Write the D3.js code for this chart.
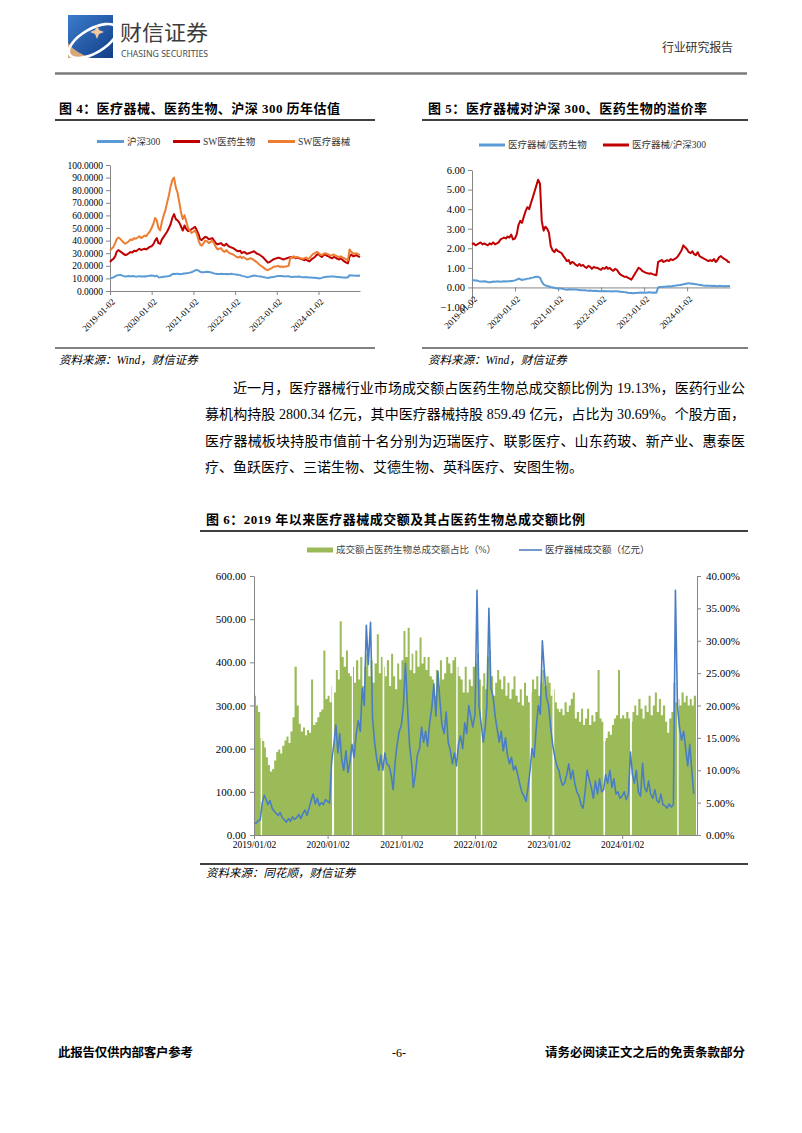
<!DOCTYPE html>
<html><head><meta charset="utf-8">
<script src="https://cdn.jsdelivr.net/npm/d3@7"></script>
<style>
html,body{margin:0;padding:0;background:#fff;}
svg{display:block;}
</style></head><body>
<svg id="page" width="802" height="1133"></svg>
<script>
// ===================== DATA =====================
// Chart 4: PE valuation, semi-monthly samples 2019-01 .. 2024-12 (+ final 2024-12-31)
const hs300PE = [
 10.0,10.3,10.8,11.6,12.3,12.6,12.8,12.4,11.8,11.5,11.7,11.9,11.6,11.9,11.8,11.4,11.6,11.8,11.5,11.6,11.7,11.6,11.9,12.2,
 12.3,12.2,11.6,12.2,11.0,10.8,11.2,11.4,11.5,11.6,11.9,12.3,13.4,13.6,13.5,13.8,13.3,13.4,13.7,13.9,14.0,14.3,14.6,14.9,
 15.6,16.3,16.8,16.2,15.3,14.8,14.9,15.1,15.2,15.0,14.8,14.5,14.0,13.6,13.5,13.4,13.6,13.5,13.4,13.5,13.3,13.4,13.6,13.4,
 13.2,12.9,12.8,12.6,12.0,11.8,11.4,11.0,11.2,11.5,11.9,12.3,12.1,11.8,11.6,11.5,11.2,11.0,10.6,10.3,10.8,11.0,11.2,11.4,
 11.7,12.0,12.0,11.9,11.7,11.6,11.8,11.7,11.3,11.2,11.3,11.4,11.3,11.5,11.2,11.0,11.0,11.1,10.8,10.7,10.7,10.6,10.5,10.4,
 10.2,10.0,10.4,10.9,11.2,11.3,11.4,11.6,11.6,11.5,11.3,11.2,11.1,11.0,10.8,10.7,10.6,10.9,12.5,12.3,12.4,12.2,12.1,12.3,
 12.2];
const swMedPE = [
 23.0,24.5,25.5,27.5,31.0,32.5,31.5,30.5,29.5,28.5,29.0,30.0,31.0,30.5,32.0,31.5,32.5,33.5,32.5,33.0,33.5,33.0,34.0,35.0,
 35.5,37.0,40.0,42.0,38.0,37.5,41.0,43.0,45.0,47.0,50.0,53.0,58.0,61.0,57.0,56.0,54.0,51.0,48.0,52.0,49.0,47.5,48.0,49.0,
 50.0,51.0,48.0,45.0,41.0,40.5,42.0,43.0,42.5,41.0,41.5,42.0,40.0,38.0,37.0,37.5,38.0,36.5,36.0,37.5,36.0,35.0,34.5,34.0,
 33.0,32.0,31.5,32.0,30.0,31.0,30.5,29.5,30.0,30.5,31.0,31.5,30.5,29.5,29.0,28.0,27.0,25.5,24.0,22.5,23.0,24.0,25.0,25.5,
 26.0,26.5,26.0,25.5,25.0,25.5,26.0,26.5,27.0,26.5,27.0,26.0,26.5,26.0,25.5,25.0,24.5,25.0,24.0,23.5,25.0,26.0,27.0,28.5,
 29.5,28.0,27.0,28.5,29.0,28.0,27.5,26.5,26.0,27.0,26.5,25.5,25.0,26.0,24.5,23.5,22.5,22.0,27.5,29.0,27.5,28.0,28.5,27.5,
 27.0];
const swDevPE = [
 32.0,33.5,35.0,38.0,41.0,42.5,41.5,40.0,38.5,37.5,38.5,39.5,41.0,40.5,42.0,41.5,42.5,43.5,42.0,43.0,44.0,43.5,45.5,47.0,
 50.0,53.0,58.0,56.0,50.0,48.0,55.0,60.0,64.0,70.0,76.0,83.0,88.0,90.0,82.0,78.0,70.0,62.0,57.0,60.0,55.0,50.0,48.0,46.0,
 47.0,48.0,45.0,40.0,37.0,36.0,38.0,40.0,39.5,38.0,39.0,40.0,38.0,35.0,33.0,33.5,34.0,32.0,31.0,32.5,31.0,30.0,29.5,29.0,
 28.0,27.0,26.5,27.5,26.0,27.0,26.0,25.0,25.5,26.0,25.5,24.5,23.5,22.5,21.0,20.0,19.0,18.0,17.0,16.5,17.5,18.0,19.0,19.5,
 19.5,20.0,19.0,19.5,19.0,19.5,19.5,20.0,26.5,27.0,27.5,26.5,27.0,26.5,26.0,25.5,26.0,26.5,25.5,26.0,28.0,29.5,30.0,31.0,
 30.5,29.0,28.5,29.5,30.0,29.5,29.0,28.0,28.5,29.0,28.0,27.5,27.0,27.5,26.5,26.0,25.0,24.5,33.0,31.0,30.0,29.5,30.0,29.0,
 29.0];
// Chart 5: premium rates, same sampling
const premVsMed = [
 0.38,0.37,0.36,0.35,0.32,0.30,0.30,0.31,0.30,0.27,0.26,0.28,0.30,0.29,0.31,0.30,0.29,0.30,0.31,0.30,0.31,0.32,0.33,0.34,
 0.36,0.40,0.45,0.42,0.38,0.40,0.42,0.45,0.46,0.48,0.50,0.53,0.55,0.54,0.50,0.30,0.15,0.10,0.08,0.05,0.02,0.00,-0.02,-0.04,
 -0.05,-0.06,-0.06,-0.08,-0.10,-0.12,-0.10,-0.09,-0.10,-0.11,-0.10,-0.12,-0.13,-0.14,-0.15,-0.14,-0.16,-0.17,-0.16,-0.17,-0.18,-0.17,-0.18,-0.19,
 -0.20,-0.19,-0.18,-0.20,-0.19,-0.20,-0.21,-0.20,-0.19,-0.20,-0.21,-0.22,-0.23,-0.24,-0.25,-0.27,-0.28,-0.29,-0.30,-0.29,-0.28,-0.27,-0.26,-0.27,
 -0.26,-0.27,-0.26,-0.25,-0.26,-0.27,-0.26,-0.27,0.00,0.02,0.02,0.03,0.04,0.05,0.06,0.05,0.07,0.08,0.10,0.11,0.12,0.14,0.16,0.18,
 0.20,0.22,0.19,0.20,0.17,0.16,0.15,0.13,0.12,0.10,0.09,0.10,0.08,0.09,0.07,0.08,0.07,0.06,0.08,0.07,0.06,0.07,0.06,0.07,
 0.07];
const premVsHS = [
 2.20,2.25,2.15,2.20,2.25,2.30,2.20,2.25,2.20,2.15,2.25,2.20,2.30,2.20,2.25,2.30,2.45,2.50,2.55,2.50,2.60,2.55,2.70,2.45,
 2.50,2.70,3.20,3.40,3.30,3.60,3.90,4.10,4.00,4.30,4.60,4.90,5.20,5.50,5.30,3.40,2.90,3.10,3.00,2.80,2.10,1.90,1.80,1.95,
 1.85,1.80,1.75,1.60,1.50,1.35,1.40,1.20,1.30,1.25,1.15,1.10,1.20,1.10,1.15,1.05,1.00,1.10,1.05,0.95,1.05,1.00,1.00,0.95,
 0.90,1.00,0.95,1.05,0.95,1.00,0.90,0.85,0.95,0.90,0.75,0.65,0.60,0.55,0.55,0.50,0.45,0.40,0.55,0.70,0.85,1.00,0.95,0.85,
 0.80,0.75,0.72,0.70,0.72,0.68,0.65,0.62,1.30,1.35,1.40,1.30,1.35,1.40,1.35,1.45,1.40,1.45,1.50,1.60,1.75,1.90,2.15,2.05,
 1.95,1.80,1.75,1.85,1.70,1.65,1.80,1.60,1.55,1.50,1.45,1.40,1.35,1.40,1.35,1.45,1.30,1.40,1.55,1.60,1.50,1.45,1.40,1.30,
 1.28];
// Chart 6: samples on the 2nd, 12th and 22nd of each month, 2019-01 .. 2024-12
const sharePct = [
 21.5,20.0,19.0,15.0,14.5,13.5,12.0,10.8,9.8,10.2,11.5,12.8,13.2,12.6,13.8,14.6,15.2,14.2,16.0,18.2,26.0,20.0,17.2,16.0,16.6,15.4,16.2,15.8,24.0,17.0,17.4,18.2,19.0,19.4,28.5,21.0,
 21.5,20.5,23.0,22.0,25.5,24.0,33.0,27.5,26.0,28.5,25.0,24.5,26.0,23.5,27.0,24.0,27.5,23.0,26.0,28.0,24.5,27.0,23.5,26.5,31.0,25.0,27.5,26.0,24.5,27.0,23.0,28.0,24.5,22.5,26.5,24.0,
 27.0,31.5,27.5,32.0,25.5,28.0,25.0,28.5,26.0,30.5,26.5,27.5,25.5,27.5,24.5,24.0,21.5,25.5,23.0,27.0,24.0,25.0,27.5,26.5,25.0,27.0,27.5,26.0,24.5,24.0,22.0,26.0,22.0,24.0,23.0,26.0,
 26.5,28.0,24.0,23.0,25.0,22.5,27.5,28.5,24.5,21.5,23.5,25.5,24.0,22.5,24.5,21.5,23.5,21.0,22.5,24.5,21.5,20.5,22.5,20.0,23.5,21.5,20.5,22.0,24.0,22.5,24.5,21.5,23.5,25.5,23.0,24.5,
 23.5,21.5,22.5,20.5,19.5,19.0,19.5,18.5,20.5,19.0,20.0,21.0,22.0,18.0,19.0,17.5,19.5,17.0,18.0,19.5,17.0,18.5,17.5,19.0,25.5,18.0,17.5,14.5,15.0,16.0,15.5,17.0,18.0,18.5,25.5,18.0,
 18.5,18.0,19.0,18.0,17.5,19.0,20.0,18.5,21.0,19.5,18.0,20.0,19.0,21.5,18.5,20.0,22.0,19.0,21.0,18.5,20.0,17.5,15.8,18.0,19.0,23.5,20.5,21.0,20.0,22.0,20.5,21.5,20.0,21.0,20.0,21.5];
const turnoverAmt = [
 30,27,33,35,75,92,84,70,80,62,55,50,45,52,40,35,30,38,32,42,36,40,48,38,50,58,45,62,80,95,72,85,68,75,70,82,
 78,74,170,210,255,190,235,175,150,195,145,170,210,180,230,265,240,340,300,486,395,493,270,215,175,150,185,150,190,165,160,140,105,170,210,240,
 255,300,398,290,205,165,110,140,185,200,250,215,240,205,260,295,350,275,380,310,255,235,285,215,195,165,190,160,210,230,200,260,235,300,275,250,
 280,567,300,255,215,250,300,525,340,320,275,245,215,240,195,225,185,165,180,150,160,140,118,100,90,78,110,150,200,180,250,300,280,450,380,320,
 300,250,210,180,160,150,130,115,120,140,165,130,150,120,100,90,70,62,100,150,130,110,85,125,95,130,100,105,140,120,150,110,130,95,100,85,
 90,100,82,95,192,140,120,150,100,90,166,110,100,125,95,85,105,80,75,95,70,68,62,72,65,70,567,300,250,220,240,200,160,210,150,95];
// Market holidays (no trading) visible as white gaps
const holidayGaps = [
 ["2019-02-04","2019-02-11"],["2020-01-24","2020-02-03"],["2020-05-01","2020-05-06"],["2020-10-01","2020-10-09"],
 ["2021-10-01","2021-10-08"],["2022-01-31","2022-02-07"],["2022-10-01","2022-10-10"],["2023-01-21","2023-01-30"],
 ["2023-10-01","2023-10-09"],["2024-02-10","2024-02-19"],["2024-10-01","2024-10-08"]];
// Ticks and labels
const yearTicks = ["2019-01-02","2020-01-02","2021-01-02","2022-01-02","2023-01-02","2024-01-02"];
const peTicks = [0,10,20,30,40,50,60,70,80,90,100];
const premTicks = [-1,0,1,2,3,4,5,6];
const amtTicks = [0,100,200,300,400,500,600];
const pctTicks = [0,5,10,15,20,25,30,35,40];
const legend4 = ["沪深300","SW医药生物","SW医疗器械"];
const legend5 = ["医疗器械/医药生物","医疗器械/沪深300"];
const legend6 = ["成交额占医药生物总成交额占比（%）","医疗器械成交额（亿元）"];
const paragraph = [
 "近一月，医疗器械行业市场成交额占医药生物总成交额比例为 19.13%，医药行业公",
 "募机构持股 2800.34 亿元，其中医疗器械持股 859.49 亿元，占比为 30.69%。个股方面，",
 "医疗器械板块持股市值前十名分别为迈瑞医疗、联影医疗、山东药玻、新产业、惠泰医",
 "疗、鱼跃医疗、三诺生物、艾德生物、英科医疗、安图生物。"];

// ===================== SETUP =====================
const parse = d3.timeParse("%Y-%m-%d");
const halfMonthDates = [];
for (let y = 2019; y <= 2024; y++) for (let m = 0; m < 12; m++) {
  halfMonthDates.push(new Date(y, m, (y === 2019 && m === 0) ? 2 : 1));
  halfMonthDates.push(new Date(y, m, 16));
}
halfMonthDates.push(new Date(2024, 11, 31));
const tenDayDates = [];
for (let y = 2019; y <= 2024; y++) for (let m = 0; m < 12; m++) [2, 12, 22].forEach(d => tenDayDates.push(new Date(y, m, d)));
const tenDayEnd = new Date(2025, 0, 2);
const yearTickDates = yearTicks.map(parse);

const SERIF = '"Liberation Serif","Times New Roman","Noto Sans CJK SC",serif';
const CJK = '"Liberation Serif","Noto Sans CJK SC",sans-serif';
const AXIS = "#868686";
const svg = d3.select("#page");
svg.append("rect").attr("width", 802).attr("height", 1133).attr("fill", "#fff");

function zip(dates, vals) { const n = Math.min(dates.length, vals.length); const out = []; for (let i = 0; i < n; i++) out.push({ date: dates[i], v: vals[i] }); return out; }
function styleAxis(g, size) {
  g.attr("font-family", SERIF).attr("font-size", size);
  g.select(".domain").attr("stroke", AXIS);
  g.selectAll(".tick line").attr("stroke", AXIS);
  g.selectAll(".tick text").attr("fill", "#000");
}

// ===================== HEADER =====================
const defs = svg.append("defs");
const lg = defs.append("linearGradient").attr("id", "logoBlue").attr("x1", "0").attr("y1", "0").attr("x2", "1").attr("y2", "1");
lg.append("stop").attr("offset", "0%").attr("stop-color", "#3b7ccc");
lg.append("stop").attr("offset", "100%").attr("stop-color", "#123e86");
defs.append("clipPath").attr("id", "logoClip").append("rect").attr("x", 68).attr("y", 15).attr("width", 45).attr("height", 43);
const logo = svg.append("g").attr("clip-path", "url(#logoClip)");
logo.append("rect").attr("x", 68).attr("y", 15).attr("width", 45).attr("height", 43).attr("fill", "url(#logoBlue)");
logo.append("path").attr("d", "M66,40 Q74,54 98,60 L66,60 Z").attr("fill", "#d9a777");
logo.append("ellipse").attr("cx", 93).attr("cy", 41).attr("rx", 27).attr("ry", 12)
  .attr("transform", "rotate(-30,93,41)").attr("fill", "none").attr("stroke", "#fff").attr("stroke-width", 2.6);
logo.append("path").attr("d", "M97,25 L99,30 L104,32 L99,34 L97,39 L95,34 L90,32 L95,30 Z").attr("fill", "#f3c9a0");
svg.append("text").attr("x", 120).attr("y", 40).attr("font-family", '"Noto Sans CJK SC",sans-serif')
  .attr("font-size", 21).attr("fill", "#3c3c3c").attr("textLength", 88).attr("lengthAdjust", "spacingAndGlyphs").text("财信证券");
svg.append("text").attr("x", 121).attr("y", 57).attr("font-family", '"Noto Sans","Open Sans",sans-serif')
  .attr("font-size", 8.5).attr("fill", "#4a4a4a").attr("textLength", 87).attr("lengthAdjust", "spacingAndGlyphs").text("CHASING SECURITIES");
svg.append("text").attr("x", 662).attr("y", 52).attr("font-family", CJK).attr("font-size", 12)
  .attr("fill", "#333").attr("textLength", 71).text("行业研究报告");
svg.append("line").attr("x1", 55).attr("x2", 747).attr("y1", 73.5).attr("y2", 73.5).attr("stroke", "#7a7a7a").attr("stroke-width", 2.5);

// ===================== COMMON TITLES =====================
function title(x, y, len, txt) {
  svg.append("text").attr("x", x).attr("y", y).attr("font-family", CJK).attr("font-weight", "bold")
    .attr("font-size", 13).attr("fill", "#000").attr("textLength", len).attr("lengthAdjust", "spacing").text(txt);
}
function hline(x1, x2, y, color, w) {
  svg.append("line").attr("x1", x1).attr("x2", x2).attr("y1", y).attr("y2", y).attr("stroke", color).attr("stroke-width", w);
}
function source(x, y, txt) {
  svg.append("text").attr("x", x).attr("y", y).attr("font-family", CJK).attr("font-style", "italic")
    .attr("font-size", 11.5).attr("fill", "#000").text(txt);
}
function legendLine(x, y, len, color, w, label, size) {
  svg.append("line").attr("x1", x).attr("x2", x + len).attr("y1", y).attr("y2", y).attr("stroke", color).attr("stroke-width", w);
  svg.append("text").attr("x", x + len + 3).attr("y", y).attr("dy", "0.35em").attr("font-family", CJK)
    .attr("font-size", size).attr("fill", "#333").text(label);
}

// ===================== CHART 4 =====================
title(59, 113, 281, "图 4：医疗器械、医药生物、沪深 300 历年估值");
hline(55, 375, 120, "#000", 1.5);
const c4colors = ["#5B9BD5", "#C00000", "#ED7D31"];
legendLine(97, 141.5, 27, c4colors[0], 3, legend4[0], 9.5);
legendLine(173, 141.5, 27, c4colors[1], 3, legend4[1], 9.5);
legendLine(268, 141.5, 27, c4colors[2], 3, legend4[2], 9.5);
const x4 = d3.scaleTime().domain([parse("2019-01-02"), parse("2024-12-31")]).range([110, 360]);
const y4 = d3.scaleLinear().domain([0, 100]).range([291, 165]);
const ga4 = svg.append("g").attr("transform", "translate(110,0)")
  .call(d3.axisLeft(y4).tickValues(peTicks).tickFormat(d3.format(".4f")).tickSize(4).tickPadding(3).tickSizeOuter(0));
styleAxis(ga4, 9.5);
const gx4 = svg.append("g").attr("transform", "translate(0,291)")
  .call(d3.axisBottom(x4).tickValues(yearTickDates).tickFormat(d3.timeFormat("%Y-%m-%d")).tickSize(4).tickSizeOuter(0));
styleAxis(gx4, 9);
gx4.selectAll(".tick text").attr("x", 0).attr("y", 0).attr("dy", "0.35em").attr("text-anchor", "end")
  .attr("transform", "translate(3,9) rotate(-45)");
const line4 = d3.line().x(d => x4(d.date)).y(d => y4(d.v));
[hs300PE, swMedPE, swDevPE].forEach((s, i) => {
  svg.append("path").datum(zip(halfMonthDates, s)).attr("d", line4).attr("fill", "none")
    .attr("stroke", c4colors[i]).attr("stroke-width", 2).attr("stroke-linejoin", "round");
});
hline(55, 375, 348, "#808080", 2);
source(59, 364, "资料来源：Wind，财信证券");

// ===================== CHART 5 =====================
title(428, 113, 279, "图 5：医疗器械对沪深 300、医药生物的溢价率");
hline(422, 748, 120, "#000", 1.5);
const c5colors = ["#5B9BD5", "#C00000"];
legendLine(479, 145, 26, c5colors[0], 3, legend5[0], 9.5);
legendLine(603, 145, 26, c5colors[1], 3, legend5[1], 9.5);
const x5 = d3.scaleTime().domain([parse("2019-01-02"), parse("2024-12-31")]).range([472, 730]);
const y5 = d3.scaleLinear().domain([-1, 6]).range([307, 170]);
const ga5 = svg.append("g").attr("transform", "translate(472,0)")
  .call(d3.axisLeft(y5).tickValues(premTicks).tickFormat(d3.format(".2f")).tickSize(4).tickPadding(3).tickSizeOuter(0));
styleAxis(ga5, 10.5);
const gx5 = svg.append("g").attr("transform", `translate(0,${y5(0)})`)
  .call(d3.axisBottom(x5).tickValues(yearTickDates).tickFormat(d3.timeFormat("%Y-%m-%d")).tickSize(4).tickSizeOuter(0));
styleAxis(gx5, 9);
gx5.selectAll(".tick text").attr("x", 0).attr("y", 0).attr("dy", "0.35em").attr("text-anchor", "end")
  .attr("transform", "translate(3,10) rotate(-45)");
const line5 = d3.line().x(d => x5(d.date)).y(d => y5(d.v));
[premVsMed, premVsHS].forEach((s, i) => {
  svg.append("path").datum(zip(halfMonthDates, s)).attr("d", line5).attr("fill", "none")
    .attr("stroke", c5colors[i]).attr("stroke-width", 2).attr("stroke-linejoin", "round");
});
hline(422, 748, 348, "#808080", 2);
source(428, 364, "资料来源：Wind，财信证券");

// ===================== PARAGRAPH =====================
const paraX = [233, 205, 205, 205], paraLen = [512, 540, 540, null], paraY = [393, 419, 446, 472];
paragraph.forEach((t, i) => {
  const tx = svg.append("text").attr("x", paraX[i]).attr("y", paraY[i]).attr("font-family", CJK)
    .attr("font-size", 14).attr("fill", "#000").text(t);
  if (paraLen[i]) tx.attr("textLength", paraLen[i]).attr("lengthAdjust", "spacing");
});

// ===================== CHART 6 =====================
title(206, 524, 379, "图 6：2019 年以来医疗器械成交额及其占医药生物总成交额比例");
hline(200, 748, 531, "#000", 1.5);
svg.append("rect").attr("x", 307).attr("y", 547.5).attr("width", 26).attr("height", 5).attr("fill", "#9BBB59");
svg.append("text").attr("x", 336).attr("y", 550).attr("dy", "0.35em").attr("font-family", CJK).attr("font-size", 9.5)
  .attr("fill", "#444").text(legend6[0]);
legendLine(519, 550, 23, "#4F81BD", 1.6, legend6[1], 9.5);

const x6 = d3.scaleTime().domain([parse("2019-01-02"), parse("2025-01-07")]).range([254, 697]);
const yL = d3.scaleLinear().domain([0, 600]).range([835, 576]);
const yR = d3.scaleLinear().domain([0, 40]).range([835, 576]);
const share = zip(tenDayDates, sharePct);
const shareStep = share.concat([{ date: tenDayEnd, v: share[share.length - 1].v }]);
const area6 = d3.area().curve(d3.curveStepAfter).x(d => x6(d.date)).y0(yR(0)).y1(d => yR(d.v));
svg.append("path").datum(shareStep).attr("d", area6).attr("fill", "#9BBB59");
svg.append("g").selectAll("rect").data(holidayGaps).join("rect")
  .attr("x", d => x6(parse(d[0]))).attr("width", d => Math.max(1.2, x6(parse(d[1])) - x6(parse(d[0]))))
  .attr("y", yR(40)).attr("height", yR(0) - yR(40)).attr("fill", "#fff");
const line6 = d3.line().x(d => x6(d.date)).y(d => yL(d.v));
svg.append("path").datum(zip(tenDayDates, turnoverAmt)).attr("d", line6).attr("fill", "none")
  .attr("stroke", "#4A7EC4").attr("stroke-width", 1.6).attr("stroke-linejoin", "round");
const gl6 = svg.append("g").attr("transform", "translate(254,0)")
  .call(d3.axisLeft(yL).tickValues(amtTicks).tickFormat(d3.format(".2f")).tickSize(4).tickPadding(4).tickSizeOuter(0));
styleAxis(gl6, 11);
const gr6 = svg.append("g").attr("transform", "translate(697,0)")
  .call(d3.axisRight(yR).tickValues(pctTicks).tickFormat(d => d3.format(".2f")(d) + "%").tickSize(4).tickPadding(5).tickSizeOuter(0));
styleAxis(gr6, 11);
const gx6 = svg.append("g").attr("transform", "translate(0,835)")
  .call(d3.axisBottom(x6).tickValues(yearTickDates).tickFormat(d3.timeFormat("%Y/%m/%d")).tickSize(4).tickPadding(2).tickSizeOuter(0));
styleAxis(gx6, 9.5);
hline(200, 748, 864, "#000", 1.5);
source(206, 877, "资料来源：同花顺，财信证券");

// ===================== FOOTER =====================
svg.append("text").attr("x", 58).attr("y", 1057).attr("font-family", CJK).attr("font-weight", "bold")
  .attr("font-size", 12.5).attr("fill", "#000").attr("textLength", 135).text("此报告仅供内部客户参考");
svg.append("text").attr("x", 399).attr("y", 1057).attr("text-anchor", "middle").attr("font-family", SERIF)
  .attr("font-size", 12).attr("fill", "#000").text("-6-");
svg.append("text").attr("x", 745).attr("y", 1057).attr("text-anchor", "end").attr("font-family", CJK).attr("font-weight", "bold")
  .attr("font-size", 12.5).attr("fill", "#000").text("请务必阅读正文之后的免责条款部分");
</script>
</body></html>
